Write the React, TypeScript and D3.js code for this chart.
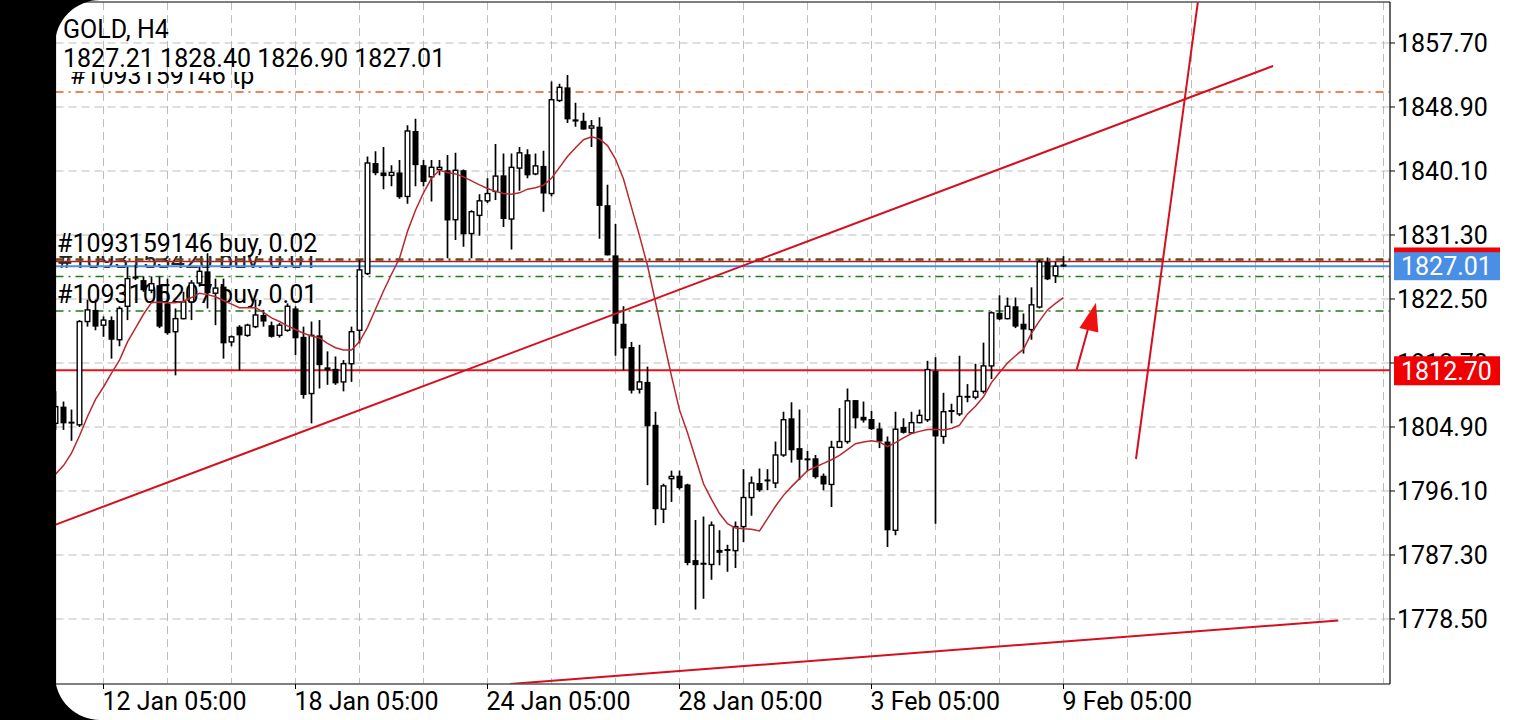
import React from "react";
import * as d3 from "d3";

const W = 1520;
const H = 720;

// ---- data ----
const opens = [1805.4,1807.7,1805.6,1805.2,1819.4,1821.0,1818.9,1819.6,1816.9,1821.5,
1825.6,1825.1,1823.7,1824.4,1821.9,1818.0,1819.8,1822.1,1824.7,1826.3,
1823.3,1824.2,1816.6,1818.7,1817.5,1818.7,1820.3,1818.9,1817.5,1818.2,
1821.2,1817.3,1809.5,1817.5,1813.1,1812.9,1811.1,1813.6,1818.2,1826.0,
1841.2,1839.9,1839.5,1839.9,1836.6,1845.6,1840.9,1839.3,1840.3,1840.2,
1833.4,1840.2,1831.5,1834.0,1836.0,1837.3,1839.5,1833.5,1840.5,1842.4,
1839.7,1840.8,1837.0,1849.8,1851.6,1847.2,1847.0,1846.0,1846.2,1835.4,
1828.5,1819.1,1815.9,1810.1,1811.1,1805.2,1793.6,1797.8,1798.2,1797.0,
1786.6,1786.2,1786.0,1788.0,1787.9,1787.9,1791.2,1795.2,1797.2,1797.5,
1797.2,1801.05,1806.1,1802.0,1800.5,1800.6,1798.2,1797.0,1802.1,1802.9,
1808.6,1806.3,1806.0,1804.7,1802.9,1790.7,1804.9,1804.1,1805.5,1805.9,
1812.6,1803.6,1807.0,1806.7,1809.0,1809.0,1809.8,1813.3,1820.6,1819.8,
1821.5,1819.1,1818.3,1821.4,1827.6,1825.7,1827.21];
const highs = [1809.8,1808.4,1807.3,1819.6,1822.4,1822.4,1820.1,1820.1,1821.5,1826.9,
1827.2,1825.6,1825.6,1825.6,1825.3,1821.2,1823.5,1825.1,1826.9,1828.8,
1825.3,1825.3,1817.5,1818.9,1819.1,1822.4,1821.0,1819.4,1819.2,1821.9,
1821.5,1818.7,1819.4,1819.6,1815.3,1814.6,1814.1,1818.7,1827.9,1842.1,
1842.8,1843.4,1840.9,1841.6,1846.4,1847.3,1841.6,1841.6,1841.6,1842.3,
1842.6,1840.3,1834.7,1836.9,1839.1,1843.8,1842.5,1842.5,1843.4,1843.1,
1842.5,1842.9,1852.4,1852.1,1853.3,1849.5,1848.1,1847.1,1847.5,1838.2,
1832.8,1821.5,1816.6,1816.2,1813.2,1807.0,1797.1,1798.9,1798.9,1797.1,
1792.1,1792.6,1791.9,1790.7,1788.7,1791.9,1799.1,1798.1,1799.2,1799.1,
1802.9,1807.0,1808.3,1807.3,1801.6,1801.05,1798.5,1803.0,1807.5,1810.2,
1808.6,1808.4,1807.1,1805.5,1803.6,1807.0,1806.1,1807.0,1807.3,1814.0,
1814.5,1809.6,1808.1,1814.7,1810.8,1813.6,1816.5,1820.8,1823.0,1822.7,
1822.7,1820.5,1824.1,1827.9,1828.2,1827.6,1828.40];
const lows = [1804.5,1804.5,1803.0,1804.9,1818.7,1818.2,1817.3,1814.3,1816.0,1819.6,
1825.1,1823.5,1823.3,1818.5,1817.6,1812.0,1819.7,1819.6,1824.2,1821.2,
1818.9,1814.3,1816.0,1812.7,1817.3,1818.5,1818.7,1817.2,1817.2,1818.0,
1814.8,1808.8,1805.4,1810.2,1810.7,1810.7,1809.8,1811.1,1816.4,1825.8,
1839.5,1837.6,1838.0,1836.3,1835.6,1838.0,1838.0,1835.9,1839.5,1828.1,
1830.6,1829.7,1828.1,1831.2,1835.7,1836.1,1832.4,1829.3,1837.4,1839.1,
1839.5,1834.5,1836.6,1849.6,1846.7,1846.2,1845.8,1843.4,1830.8,1828.5,
1814.7,1812.7,1809.5,1809.5,1796.9,1791.4,1791.7,1794.6,1796.3,1785.9,
1779.8,1781.3,1783.9,1785.9,1785.0,1785.5,1789.1,1792.7,1796.0,1796.2,
1796.5,1800.8,1800.0,1797.6,1798.8,1797.8,1796.2,1793.9,1802.0,1802.6,
1804.7,1805.5,1804.5,1802.0,1788.4,1790.0,1804.0,1804.0,1805.4,1805.6,
1791.6,1802.6,1805.4,1806.4,1808.3,1808.7,1809.5,1811.5,1819.6,1819.7,
1818.5,1815.0,1816.9,1821.2,1825.1,1824.7,1826.90];
const closes = [1807.7,1805.4,1805.4,1819.4,1821.0,1818.7,1819.6,1816.9,1821.2,1825.3,
1825.3,1823.7,1824.6,1818.7,1817.8,1819.8,1822.1,1824.7,1826.3,1823.3,
1824.0,1816.4,1817.3,1817.5,1818.9,1820.3,1819.4,1817.3,1818.9,1821.5,
1817.1,1809.3,1817.5,1813.4,1812.7,1810.9,1813.6,1818.0,1826.5,1841.2,
1839.8,1839.4,1839.9,1836.5,1845.6,1840.9,1838.6,1840.6,1840.6,1833.3,
1840.2,1831.4,1834.5,1836.0,1837.0,1839.4,1833.5,1840.6,1842.6,1839.5,
1840.8,1837.0,1849.9,1851.6,1847.2,1846.9,1845.8,1846.3,1835.3,1828.5,
1819.1,1815.7,1809.9,1811.1,1805.0,1793.6,1796.8,1798.1,1796.5,1786.2,
1785.9,1786.0,1791.4,1787.6,1788.1,1791.2,1795.2,1797.2,1796.2,1797.6,
1801.05,1805.9,1801.7,1800.4,1800.4,1798.0,1797.0,1802.1,1802.9,1808.5,
1806.1,1805.8,1804.6,1802.9,1790.7,1804.6,1804.1,1805.5,1806.5,1812.8,
1803.6,1807.0,1807.2,1809.1,1809.1,1809.8,1813.3,1820.6,1819.7,1821.5,
1818.7,1818.3,1821.7,1827.6,1825.2,1827.0,1827.01];
const maValues = [1798.4,1799.6,1801.3,1803.7,1806.35,1808.7,1810.4,1812.3,1814.1,1816.6,
1818.5,1820.4,1822.0,1822.1,1822.0,1822.0,1822.2,1822.7,1823.3,1823.1,
1822.8,1822.3,1821.8,1821.3,1821.3,1821.3,1820.65,1819.9,1819.4,1818.8,
1818.3,1817.8,1817.4,1817.15,1816.4,1815.8,1815.5,1815.5,1816.65,1818.6,
1821.1,1823.6,1825.9,1828.1,1831.8,1834.7,1837.1,1839.1,1840.2,1839.9,
1839.7,1839.3,1838.75,1838.2,1837.7,1837.3,1837.0,1836.9,1837.1,1837.6,
1837.8,1838.15,1839.1,1840.6,1842.1,1843.3,1844.4,1844.8,1844.5,1843.6,
1841.75,1839.0,1835.1,1831.2,1827.1,1822.05,1816.9,1811.9,1807.25,1804.1,
1800.6,1797.1,1794.95,1793.0,1791.6,1791.0,1790.9,1790.85,1790.6,1792.3,
1794.0,1795.5,1796.7,1797.8,1798.9,1799.4,1799.9,1800.4,1801.0,1801.8,
1802.6,1802.85,1803.0,1802.85,1802.2,1802.75,1803.4,1804.0,1804.3,1804.55,
1804.6,1804.5,1804.7,1805.15,1806.7,1807.75,1809.05,1811.0,1812.4,1813.7,
1814.7,1815.6,1817.8,1819.5,1821.0,1821.9,1822.7];

const xTickIndex = [6, 30, 54, 78, 102, 126];
const xTickLabels = ["12 Jan 05:00", "18 Jan 05:00", "24 Jan 05:00", "28 Jan 05:00", "3 Feb 05:00", "9 Feb 05:00"];
const yTicks = [1857.7, 1848.9, 1840.1, 1831.3, 1822.5, 1813.7, 1804.9, 1796.1, 1787.3, 1778.5];

const titleText = "GOLD, H4";
const ohlcText = "1827.21 1828.40 1826.90 1827.01";
const tpLabel = "#1093159146 tp";
const tpPrice = 1850.96;
const orderLabels = ["#1093159146 buy, 0.02", "#1093153420 buy, 0.01", "#1093105207 buy, 0.01"];
const orderPrices = [1827.93, 1825.59, 1820.85];
const askPrice = 1827.66;
const bidPrice = 1827.01;
const levelPrice = 1812.7;

const trendStartIdx = [-5, 56.8, 135.06, 127.65];
const trendStartPrice = [1789.4, 1769.56, 1800.5, 1812.79];
const trendEndIdx = [152.2, 160.35, 143.0, 129.1];
const trendEndPrice = [1854.54, 1778.3, 1865.0, 1818.5];
const arrowIdx = [130.06, 127.98, 130.35];
const arrowPrice = [1822.0, 1818.5, 1817.88];

// ---- layout ----
const PL = 55.5, PR = 1390, PT = 2, PB = 684;
const FONT = "Roboto, 'Noto Sans', sans-serif";

export default function App() {
  const x = d3.scaleLinear().domain([0, 126]).range([55.5, 1063.5]);
  const y = d3.scaleLinear().domain([1778.5, 1857.7]).range([619, 43]);

  const gridIdx = d3.range(6, 167, 8);
  const maLine = d3.line<number>().x((_, i) => x(i)).y((d) => y(d));

  const bw = 6;
  const r = 45;

  return (
    <svg width={W} height={H} style={{ position: "fixed", left: 0, top: 0, background: "#fff" }} fontFamily={FONT}>
      <defs>
        <clipPath id="plot"><rect x={PL + 0.5} y={PT + 0.5} width={PR - PL - 1} height={PB - PT - 1} /></clipPath>
        <clipPath id="tpclip"><rect x={PL} y={72} width={600} height={30} /></clipPath>
        <clipPath id="ord2clip"><rect x={PL} y={256} width={600} height={12} /></clipPath>
      </defs>
      <rect x={0} y={0} width={W} height={H} fill="#fff" />

      <g clipPath="url(#plot)">
        {/* grid */}
        {yTicks.map((t) => (
          <line key={"hg" + t} x1={PL} x2={PR} y1={y(t)} y2={y(t)} stroke="#bcbcbc" strokeWidth={1} strokeDasharray="8,5" />
        ))}
        {gridIdx.map((g) => (
          <line key={"vg" + g} x1={x(g)} x2={x(g)} y1={PT} y2={PB} stroke="#bcbcbc" strokeWidth={1} strokeDasharray="8,5" />
        ))}

        {/* order labels */}
        <text x={70} y={y(tpPrice) - 8} fontSize={25} fill="#000" clipPath="url(#tpclip)">{tpLabel}</text>
        <text x={57} y={y(orderPrices[1]) - 8} fontSize={25} fill="#222" clipPath="url(#ord2clip)">{orderLabels[1]}</text>
        <text x={57} y={y(orderPrices[0]) - 8} fontSize={25} fill="#000">{orderLabels[0]}</text>
        <text x={57} y={y(orderPrices[2]) - 8} fontSize={25} fill="#000">{orderLabels[2]}</text>

        {/* level lines */}
        <line x1={PL} x2={PR} y1={y(tpPrice)} y2={y(tpPrice)} stroke="#e85a20" strokeWidth={1.5} strokeDasharray="8,5,2,5" />
        <line x1={PL} x2={PR} y1={y(askPrice)} y2={y(askPrice)} stroke="#b02020" strokeWidth={1.6} />
        <line x1={PL} x2={PR} y1={y(orderPrices[0])} y2={y(orderPrices[0])} stroke="#6b4a1a" strokeWidth={2.5} strokeDasharray="8,5,2,5" />
        <line x1={PL} x2={PR} y1={y(bidPrice)} y2={y(bidPrice)} stroke="#4a90e2" strokeWidth={2} />
        <line x1={PL} x2={PR} y1={y(orderPrices[1])} y2={y(orderPrices[1])} stroke="#1f7a1f" strokeWidth={1.6} strokeDasharray="8,5,2,5" />
        <line x1={PL} x2={PR} y1={y(orderPrices[2])} y2={y(orderPrices[2])} stroke="#1f7a1f" strokeWidth={1.6} strokeDasharray="8,5,2,5" />
        <line x1={PL} x2={PR} y1={y(levelPrice)} y2={y(levelPrice)} stroke="#e8141c" strokeWidth={2} />

        {/* candles */}
        {opens.map((o, i) => {
          const c = closes[i];
          const cx = x(i);
          const yo = y(o), yc = y(c);
          const top = Math.min(yo, yc), h = Math.abs(yo - yc);
          const bull = c >= o;
          return (
            <g key={"c" + i}>
              <line x1={cx} x2={cx} y1={y(highs[i])} y2={y(lows[i])} stroke="#000" strokeWidth={1.7} />
              {h < 1.6 ? (
                <line x1={cx - bw / 2} x2={cx + bw / 2} y1={(yo + yc) / 2} y2={(yo + yc) / 2} stroke="#000" strokeWidth={2} />
              ) : bull ? (
                <rect x={cx - bw / 2 + 0.7} y={top} width={bw - 1.4} height={h} fill="#fff" stroke="#000" strokeWidth={1.4} />
              ) : (
                <rect x={cx - bw / 2} y={top} width={bw} height={h} fill="#000" />
              )}
            </g>
          );
        })}

        {/* moving average */}
        <path d={maLine(maValues) || ""} fill="none" stroke="#b8282e" strokeWidth={1.5} />

        {/* trend lines */}
        {trendStartIdx.map((s, k) => (
          <line key={"tl" + k} x1={x(s)} y1={y(trendStartPrice[k])} x2={x(trendEndIdx[k])} y2={y(trendEndPrice[k])} stroke="#d41020" strokeWidth={2} />
        ))}
        <polygon points={arrowIdx.map((a, k) => `${x(a)},${y(arrowPrice[k])}`).join(" ")} fill="#f01010" />
      </g>

      {/* frame */}
      <line x1={PL} x2={PR} y1={PT} y2={PT} stroke="#000" strokeWidth={1.2} />
      <line x1={PL} x2={PL} y1={PT} y2={PB} stroke="#000" strokeWidth={1.2} />
      <line x1={PR} x2={PR} y1={PT} y2={PB} stroke="#000" strokeWidth={1.2} />
      <line x1={PL} x2={PR} y1={PB} y2={PB} stroke="#000" strokeWidth={1.2} />

      {/* x axis */}
      {xTickIndex.map((t, k) => (
        <g key={"xt" + t}>
          <line x1={x(t)} x2={x(t)} y1={PB} y2={PB + 5} stroke="#000" strokeWidth={1} />
          <text x={x(t) - 1} y={710} fontSize={25} fill="#000">{xTickLabels[k]}</text>
        </g>
      ))}

      {/* y axis */}
      {yTicks.map((t) => (
        <g key={"yt" + t}>
          <line x1={PR} x2={PR + 5} y1={y(t)} y2={y(t)} stroke="#000" strokeWidth={1} />
          <text x={1397} y={y(t)} dy="0.36em" fontSize={25} fill="#000">{t.toFixed(2)}</text>
        </g>
      ))}

      {/* price boxes */}
      <rect x={1394} y={y(askPrice) - 14} width={106} height={28} fill="#f00000" />
      <rect x={1394} y={y(bidPrice) - 14} width={106} height={28} fill="#4a8fe6" />
      <text x={1401} y={y(bidPrice)} dy="0.36em" fontSize={25} fill="#fff">{bidPrice.toFixed(2)}</text>
      <rect x={1394} y={y(levelPrice) - 14} width={106} height={29} fill="#f00000" />
      <text x={1401} y={y(levelPrice)} dy="0.38em" fontSize={25} fill="#fff">{levelPrice.toFixed(2)}</text>

      {/* header */}
      <text x={63} y={38} fontSize={25} fill="#000">{titleText}</text>
      <text x={63} y={67} fontSize={25} fill="#000">{ohlcText}</text>

      {/* screen edges */}
      <rect x={0} y={0} width={55} height={H} fill="#000" />
      <path d={`M55,0 H${55 + r} A${r},${r} 0 0 0 55,${r} Z`} fill="#000" />
      <path d={`M55,${H} V${H - r} A${r},${r} 0 0 0 ${55 + r},${H} Z`} fill="#000" />
    </svg>
  );
}
